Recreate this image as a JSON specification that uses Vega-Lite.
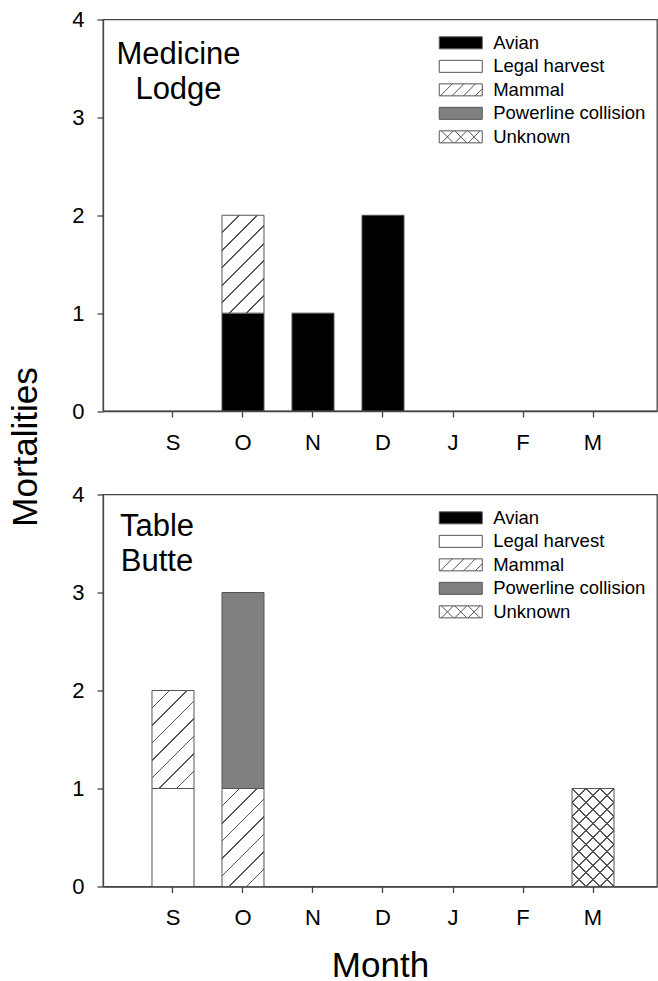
{
  "$schema": "https://vega.github.io/schema/vega-lite/v6.json",
  "background": "white",
  "padding": {"left": 7, "top": 7.5, "right": 0, "bottom": 0},
  "config": {
    "font": "Liberation Sans",
    "view": {"stroke": "#444", "strokeWidth": 1.3},
    "axis": {
      "grid": false,
      "domainColor": "#444",
      "domainWidth": 1.3,
      "tickColor": "#444",
      "tickWidth": 1.3,
      "tickSize": 6,
      "labelFont": "Liberation Sans",
      "labelFontSize": 22,
      "labelColor": "black",
      "titleFont": "Liberation Sans",
      "titleFontSize": 35,
      "titleFontWeight": "normal",
      "titleColor": "black"
    },
    "axisX": {"labelAngle": 0, "labelPadding": 15.4, "labelBaseline": "top"},
    "axisY": {"labelPadding": 13, "format": "d"},
    "legend": {
      "labelFont": "Liberation Sans",
      "labelFontSize": 18.5,
      "labelColor": "black",
      "symbolSize": 144,
      "symbolStrokeWidth": 1,
      "symbolStrokeColor": "#555",
      "rowPadding": 4.5,
      "labelOffset": 23.2,
      "padding": 0,
      "titlePadding": 0
    },
    "title": {"font": "Liberation Sans", "fontSize": 31, "fontWeight": "normal", "color": "black"}
  },
  "datasets": {
    "ml": [
      {"month": "O", "cause": "Avian", "n": 1},
      {"month": "O", "cause": "Mammal", "n": 1},
      {"month": "N", "cause": "Avian", "n": 1},
      {"month": "D", "cause": "Avian", "n": 2}
    ],
    "tb": [
      {"month": "S", "cause": "Legal harvest", "n": 1},
      {"month": "S", "cause": "Mammal", "n": 1},
      {"month": "O", "cause": "Mammal", "n": 1},
      {"month": "O", "cause": "Powerline collision", "n": 2},
      {"month": "M", "cause": "Unknown", "n": 1}
    ]
  },
  "bounds": "flush",
  "spacing": 83,
  "resolve": {"scale": {"color": "independent", "shape": "independent"}},
  "vconcat": [
    {
      "width": 554,
      "height": 391.5,
      "title": {"text": ["Medicine", "Lodge"], "frame": "group", "anchor": "start", "align": "center", "baseline": "top", "dx": 75.5, "offset": -97.3, "lineHeight": 35},
      "data": {"name": "ml"},
      "layer": [
        {
          "mark": {"type": "bar", "stroke": "#555", "strokeWidth": 1},
          "encoding": {
            "x": {"field": "month", "type": "nominal", "sort": null,
                  "scale": {"domain": ["S", "O", "N", "D", "J", "F", "M"], "paddingInner": 0.4, "paddingOuter": 0.657, "align": 0.5326},
                  "axis": {"title": null}},
            "y": {"field": "n", "type": "quantitative", "aggregate": "sum", "stack": "zero",
                  "scale": {"domain": [0, 4], "nice": false},
                  "axis": {"values": [0, 1, 2, 3, 4], "title": "Mortalities", "titleX": -67, "titleY": 427, "titleAngle": 270, "titleAlign": "center", "titleBaseline": "alphabetic"}},
            "detail": {"field": "cause", "type": "nominal"},
            "order": {"field": "cause", "type": "ordinal", "sort": "ascending"},
            "fill": {
              "condition": [
                {"test": "datum.cause === 'Avian'", "value": "#000000"},
                {"test": "datum.cause === 'Powerline collision'", "value": "#808080"},
                {"test": "datum.cause === 'Mammal'", "value": {"gradient": "linear", "x1": 0, "y1": 0, "x2": 0.5173, "y2": 1.2069, "stops": [
                  {"offset": 0, "color": "#ffffff"},
                  {"offset": 0.118, "color": "#ffffff"}, {"offset": 0.118, "color": "#555555"}, {"offset": 0.132, "color": "#555555"}, {"offset": 0.132, "color": "#ffffff"},
                  {"offset": 0.243, "color": "#ffffff"}, {"offset": 0.243, "color": "#555555"}, {"offset": 0.257, "color": "#555555"}, {"offset": 0.257, "color": "#ffffff"},
                  {"offset": 0.368, "color": "#ffffff"}, {"offset": 0.368, "color": "#555555"}, {"offset": 0.382, "color": "#555555"}, {"offset": 0.382, "color": "#ffffff"},
                  {"offset": 0.493, "color": "#ffffff"}, {"offset": 0.493, "color": "#555555"}, {"offset": 0.507, "color": "#555555"}, {"offset": 0.507, "color": "#ffffff"},
                  {"offset": 0.618, "color": "#ffffff"}, {"offset": 0.618, "color": "#555555"}, {"offset": 0.632, "color": "#555555"}, {"offset": 0.632, "color": "#ffffff"},
                  {"offset": 0.743, "color": "#ffffff"}, {"offset": 0.743, "color": "#555555"}, {"offset": 0.757, "color": "#555555"}, {"offset": 0.757, "color": "#ffffff"},
                  {"offset": 0.868, "color": "#ffffff"}, {"offset": 0.868, "color": "#555555"}, {"offset": 0.882, "color": "#555555"}, {"offset": 0.882, "color": "#ffffff"},
                  {"offset": 1, "color": "#ffffff"}
                ]}}
              ],
              "value": "#ffffff"
            }
          }
        },
        {
          "mark": {"type": "point", "filled": true, "size": 0, "opacity": 1, "stroke": "#555", "strokeWidth": 1},
          "encoding": {
            "x": {"field": "month", "type": "nominal", "sort": null},
            "y": {"field": "n", "type": "quantitative"},
            "color": {"field": "cause", "type": "nominal",
                      "scale": {"domain": ["Avian", "Legal harvest", "Mammal", "Powerline collision", "Unknown"], "range": ["#000000", "#ffffff", "#ffffff", "#808080", "#ffffff"]},
                      "legend": {"title": null, "orient": "none", "legendX": 348.5, "legendY": 14.1}},
            "shape": {"field": "cause", "type": "nominal",
                      "scale": {"domain": ["Avian", "Legal harvest", "Mammal", "Powerline collision", "Unknown"],
                                "range": ["M-3.583,-1H3.583V1H-3.583Z", "M-3.583,-1H3.583V1H-3.583Z",
                                          "M-3.583,-1H3.583V1H-3.583Z M-3.404,1L-1.405,-1 M-1.469,1L0.53,-1 M0.466,1L2.465,-1 M2.401,1L3.583,-0.183",
                                          "M-3.583,-1H3.583V1H-3.583Z",
                                          "M-3.583,-1H3.583V1H-3.583Z M-3.221,-1L-1.222,1 M-3.221,1L-1.222,-1 M-1,-1L1,1 M-1,1L1,-1 M1.222,-1L3.221,1 M1.222,1L3.221,-1"]},
                      "legend": {"title": null, "orient": "none", "legendX": 348.5, "legendY": 14.1}}
          }
        }
      ]
    },
    {
      "width": 554,
      "height": 392,
      "title": {"text": ["Table", "Butte"], "frame": "group", "anchor": "start", "align": "center", "baseline": "top", "dx": 54, "offset": -94.3, "lineHeight": 35},
      "data": {"name": "tb"},
      "layer": [
        {
          "mark": {"type": "bar", "stroke": "#555", "strokeWidth": 1},
          "encoding": {
            "x": {"field": "month", "type": "nominal", "sort": null,
                  "scale": {"domain": ["S", "O", "N", "D", "J", "F", "M"], "paddingInner": 0.4, "paddingOuter": 0.657, "align": 0.5326},
                  "axis": {"title": "Month", "titleY": 90, "titleBaseline": "alphabetic"}},
            "y": {"field": "n", "type": "quantitative", "aggregate": "sum", "stack": "zero",
                  "scale": {"domain": [0, 4], "nice": false},
                  "axis": {"values": [0, 1, 2, 3, 4], "title": null}},
            "detail": {"field": "cause", "type": "nominal"},
            "order": {"field": "cause", "type": "ordinal", "sort": "ascending"},
            "fill": {
              "condition": [
                {"test": "datum.cause === 'Avian'", "value": "#000000"},
                {"test": "datum.cause === 'Powerline collision'", "value": "#808080"},
                {"test": "datum.cause === 'Mammal'", "value": {"gradient": "linear", "x1": 0, "y1": 0, "x2": 0.5173, "y2": 1.2069, "stops": [
                  {"offset": 0, "color": "#ffffff"},
                  {"offset": 0.118, "color": "#ffffff"}, {"offset": 0.118, "color": "#555555"}, {"offset": 0.132, "color": "#555555"}, {"offset": 0.132, "color": "#ffffff"},
                  {"offset": 0.243, "color": "#ffffff"}, {"offset": 0.243, "color": "#555555"}, {"offset": 0.257, "color": "#555555"}, {"offset": 0.257, "color": "#ffffff"},
                  {"offset": 0.368, "color": "#ffffff"}, {"offset": 0.368, "color": "#555555"}, {"offset": 0.382, "color": "#555555"}, {"offset": 0.382, "color": "#ffffff"},
                  {"offset": 0.493, "color": "#ffffff"}, {"offset": 0.493, "color": "#555555"}, {"offset": 0.507, "color": "#555555"}, {"offset": 0.507, "color": "#ffffff"},
                  {"offset": 0.618, "color": "#ffffff"}, {"offset": 0.618, "color": "#555555"}, {"offset": 0.632, "color": "#555555"}, {"offset": 0.632, "color": "#ffffff"},
                  {"offset": 0.743, "color": "#ffffff"}, {"offset": 0.743, "color": "#555555"}, {"offset": 0.757, "color": "#555555"}, {"offset": 0.757, "color": "#ffffff"},
                  {"offset": 0.868, "color": "#ffffff"}, {"offset": 0.868, "color": "#555555"}, {"offset": 0.882, "color": "#555555"}, {"offset": 0.882, "color": "#ffffff"},
                  {"offset": 1, "color": "#ffffff"}
                ]}},
                {"test": "datum.cause === 'Unknown'", "value": {"gradient": "linear", "x1": 0, "y1": 1, "x2": 0.5173, "y2": -0.2069, "stops": [
                  {"offset": 0, "color": "#ffffff"},
                  {"offset": 0.092, "color": "#ffffff"}, {"offset": 0.092, "color": "#555555"}, {"offset": 0.108, "color": "#555555"}, {"offset": 0.108, "color": "#ffffff"},
                  {"offset": 0.192, "color": "#ffffff"}, {"offset": 0.192, "color": "#555555"}, {"offset": 0.208, "color": "#555555"}, {"offset": 0.208, "color": "#ffffff"},
                  {"offset": 0.292, "color": "#ffffff"}, {"offset": 0.292, "color": "#555555"}, {"offset": 0.308, "color": "#555555"}, {"offset": 0.308, "color": "#ffffff"},
                  {"offset": 0.392, "color": "#ffffff"}, {"offset": 0.392, "color": "#555555"}, {"offset": 0.408, "color": "#555555"}, {"offset": 0.408, "color": "#ffffff"},
                  {"offset": 0.492, "color": "#ffffff"}, {"offset": 0.492, "color": "#555555"}, {"offset": 0.508, "color": "#555555"}, {"offset": 0.508, "color": "#ffffff"},
                  {"offset": 0.592, "color": "#ffffff"}, {"offset": 0.592, "color": "#555555"}, {"offset": 0.608, "color": "#555555"}, {"offset": 0.608, "color": "#ffffff"},
                  {"offset": 0.692, "color": "#ffffff"}, {"offset": 0.692, "color": "#555555"}, {"offset": 0.708, "color": "#555555"}, {"offset": 0.708, "color": "#ffffff"},
                  {"offset": 0.792, "color": "#ffffff"}, {"offset": 0.792, "color": "#555555"}, {"offset": 0.808, "color": "#555555"}, {"offset": 0.808, "color": "#ffffff"},
                  {"offset": 0.892, "color": "#ffffff"}, {"offset": 0.892, "color": "#555555"}, {"offset": 0.908, "color": "#555555"}, {"offset": 0.908, "color": "#ffffff"},
                  {"offset": 1, "color": "#ffffff"}
                ]}}
              ],
              "value": "#ffffff"
            }
          }
        },
        {
          "transform": [{"filter": "datum.cause === 'Unknown'"}],
          "mark": {"type": "bar", "strokeWidth": 0, "fill": {"gradient": "linear", "x1": 0, "y1": 0, "x2": 0.5173, "y2": 1.2069, "stops": [
            {"offset": 0, "color": "rgba(255,255,255,0)"},
            {"offset": 0.092, "color": "rgba(255,255,255,0)"}, {"offset": 0.092, "color": "#555555"}, {"offset": 0.108, "color": "#555555"}, {"offset": 0.108, "color": "rgba(255,255,255,0)"},
            {"offset": 0.192, "color": "rgba(255,255,255,0)"}, {"offset": 0.192, "color": "#555555"}, {"offset": 0.208, "color": "#555555"}, {"offset": 0.208, "color": "rgba(255,255,255,0)"},
            {"offset": 0.292, "color": "rgba(255,255,255,0)"}, {"offset": 0.292, "color": "#555555"}, {"offset": 0.308, "color": "#555555"}, {"offset": 0.308, "color": "rgba(255,255,255,0)"},
            {"offset": 0.392, "color": "rgba(255,255,255,0)"}, {"offset": 0.392, "color": "#555555"}, {"offset": 0.408, "color": "#555555"}, {"offset": 0.408, "color": "rgba(255,255,255,0)"},
            {"offset": 0.492, "color": "rgba(255,255,255,0)"}, {"offset": 0.492, "color": "#555555"}, {"offset": 0.508, "color": "#555555"}, {"offset": 0.508, "color": "rgba(255,255,255,0)"},
            {"offset": 0.592, "color": "rgba(255,255,255,0)"}, {"offset": 0.592, "color": "#555555"}, {"offset": 0.608, "color": "#555555"}, {"offset": 0.608, "color": "rgba(255,255,255,0)"},
            {"offset": 0.692, "color": "rgba(255,255,255,0)"}, {"offset": 0.692, "color": "#555555"}, {"offset": 0.708, "color": "#555555"}, {"offset": 0.708, "color": "rgba(255,255,255,0)"},
            {"offset": 0.792, "color": "rgba(255,255,255,0)"}, {"offset": 0.792, "color": "#555555"}, {"offset": 0.808, "color": "#555555"}, {"offset": 0.808, "color": "rgba(255,255,255,0)"},
            {"offset": 0.892, "color": "rgba(255,255,255,0)"}, {"offset": 0.892, "color": "#555555"}, {"offset": 0.908, "color": "#555555"}, {"offset": 0.908, "color": "rgba(255,255,255,0)"},
            {"offset": 1, "color": "rgba(255,255,255,0)"}
          ]}},
          "encoding": {
            "x": {"field": "month", "type": "nominal", "sort": null},
            "y": {"field": "n", "type": "quantitative", "aggregate": "sum", "stack": "zero"}
          }
        },
        {
          "mark": {"type": "point", "filled": true, "size": 0, "opacity": 1, "stroke": "#555", "strokeWidth": 1},
          "encoding": {
            "x": {"field": "month", "type": "nominal", "sort": null},
            "y": {"field": "n", "type": "quantitative"},
            "color": {"field": "cause", "type": "nominal",
                      "scale": {"domain": ["Avian", "Legal harvest", "Mammal", "Powerline collision", "Unknown"], "range": ["#000000", "#ffffff", "#ffffff", "#808080", "#ffffff"]},
                      "legend": {"title": null, "orient": "none", "legendX": 348.5, "legendY": 14.1}},
            "shape": {"field": "cause", "type": "nominal",
                      "scale": {"domain": ["Avian", "Legal harvest", "Mammal", "Powerline collision", "Unknown"],
                                "range": ["M-3.583,-1H3.583V1H-3.583Z", "M-3.583,-1H3.583V1H-3.583Z",
                                          "M-3.583,-1H3.583V1H-3.583Z M-3.404,1L-1.405,-1 M-1.469,1L0.53,-1 M0.466,1L2.465,-1 M2.401,1L3.583,-0.183",
                                          "M-3.583,-1H3.583V1H-3.583Z",
                                          "M-3.583,-1H3.583V1H-3.583Z M-3.221,-1L-1.222,1 M-3.221,1L-1.222,-1 M-1,-1L1,1 M-1,1L1,-1 M1.222,-1L3.221,1 M1.222,1L3.221,-1"]},
                      "legend": {"title": null, "orient": "none", "legendX": 348.5, "legendY": 14.1}}
          }
        }
      ]
    }
  ]
}
